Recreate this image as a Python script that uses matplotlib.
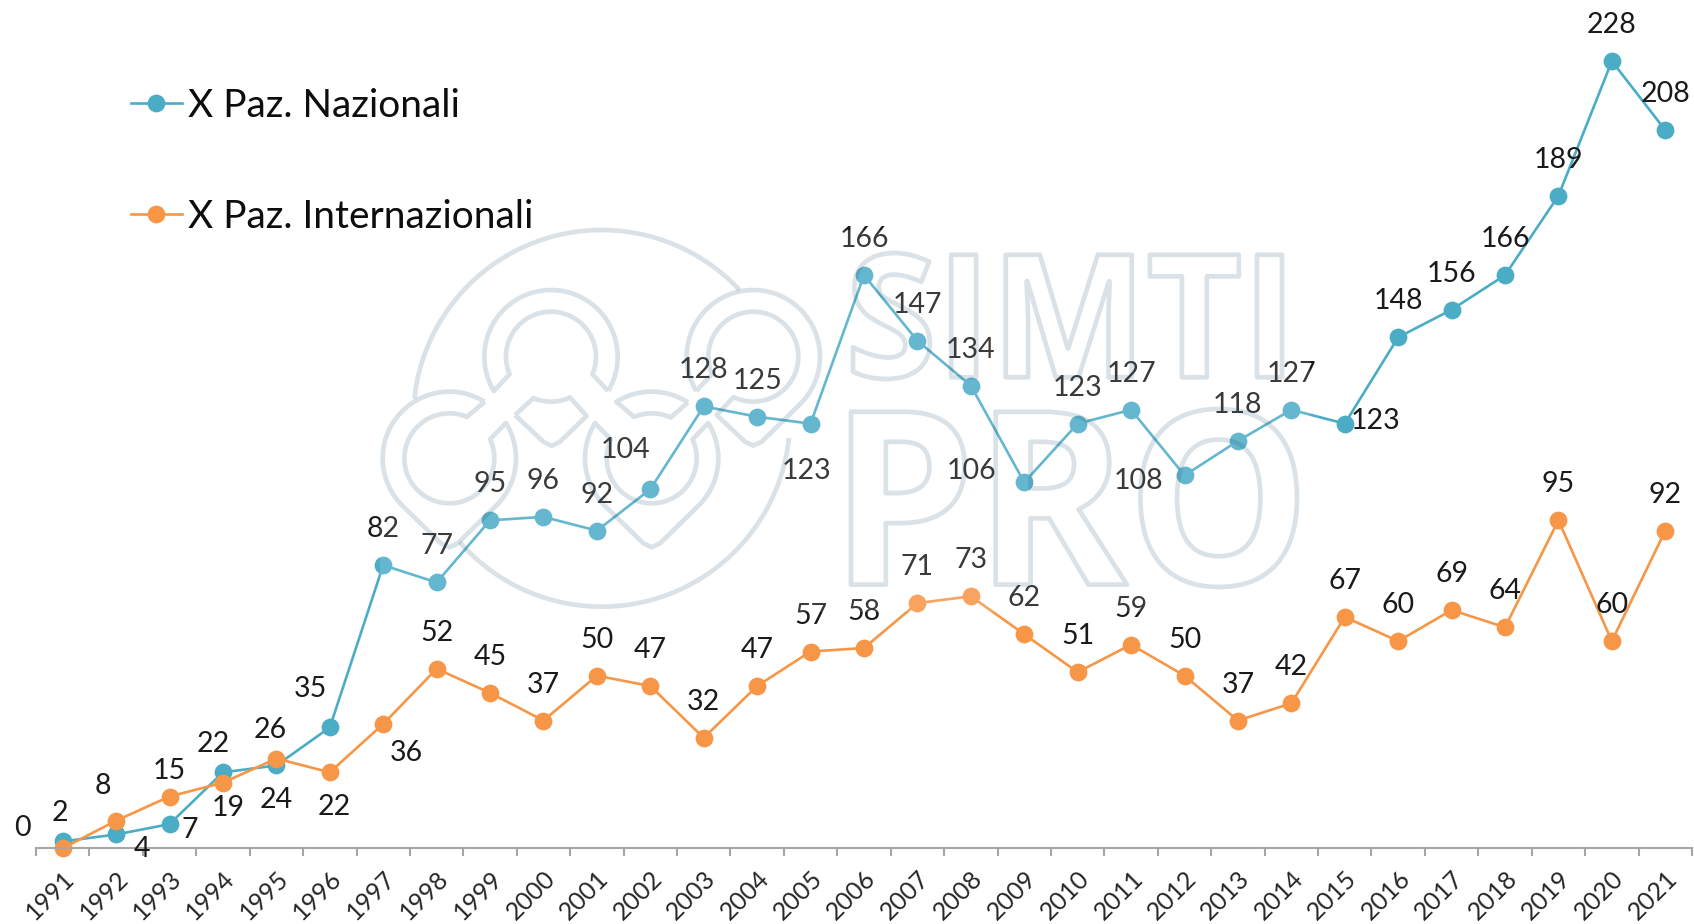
import numpy as np
import matplotlib
matplotlib.use('Agg')
import matplotlib.pyplot as plt
from matplotlib.font_manager import FontProperties
from matplotlib.patches import PathPatch, Rectangle
from matplotlib.path import Path
from matplotlib.textpath import TextPath
from matplotlib.transforms import Affine2D

plt.rcParams['font.family'] = ['Lato', 'DejaVu Sans']

years = list(range(1991, 2022))
nazionali = [2, 4, 7, 22, 24, 35, 82, 77, 95, 96, 92, 104, 128, 125, 123, 166,
             147, 134, 106, 123, 127, 108, 118, 127, 123, 148, 156, 166, 189, 228, 208]
internazionali = [0, 8, 15, 19, 26, 22, 36, 52, 45, 37, 50, 47, 32, 47, 57, 58,
                  71, 73, 62, 51, 59, 50, 37, 42, 67, 60, 69, 64, 95, 60, 92]

BLUE = '#4BACC6'
ORANGE = '#F79646'
W, H = 1694, 924

# label offsets in pixels, only the ones that are not straight above the point
off_naz = {0: (-3, 28), 1: (26, -15), 2: (20, -6), 3: (-10, 28), 4: (0, -35), 5: (-19, 38),
           11: (-25, 39), 14: (-4, -47), 18: (-53, 11), 21: (-46, -6), 24: (31, 3)}
off_int = {0: (-40, 20), 1: (-13, 35), 2: (0, 26), 3: (5, -25), 4: (-6, 29), 5: (4, -35),
           6: (23, -29)}

fig = plt.figure(figsize=(W / 100, H / 100), dpi=100)
ax = fig.add_axes([36 / W, (H - 848.3) / H, 1656 / W, 848.3 / H])

x = np.arange(len(years))
ax.plot(x, nazionali, color=BLUE, lw=1.9, marker='o', ms=12.8, mew=0,
        label='X Paz. Nazionali', clip_on=False)
ax.plot(x, internazionali, color=ORANGE, lw=1.9, marker='o', ms=12.8, mew=0,
        label='X Paz. Internazionali', clip_on=False)

for vals, offs in ((nazionali, off_naz), (internazionali, off_int)):
    for i, v in enumerate(vals):
        ax.annotate(str(v), (x[i], v), xytext=offs.get(i, (0, 36)), textcoords='offset pixels',
                    ha='center', va='center', fontsize=20.5, color='#1a1a1a')

ax.set_xlim(-0.5, 30.5)
ax.set_ylim(0, 245.7)
ax.yaxis.set_visible(False)
for s in ('top', 'left', 'right'):
    ax.spines[s].set_visible(False)
ax.spines['bottom'].set_color('#a6a6a6')
ax.spines['bottom'].set_linewidth(1.5)
ax.set_xticks(np.r_[-0.5, x + 0.5])
ax.set_xticklabels([])
ax.tick_params(axis='x', which='major', length=5.5, width=1.5, color='#a6a6a6')
ax.set_xticks(x, minor=True)
ax.set_xticklabels(years, minor=True, rotation=45, ha='right', va='top', fontsize=18,
                   color='#262626', rotation_mode='anchor')
ax.tick_params(axis='x', which='minor', length=0, pad=13)

ax.legend(loc='upper left', bbox_to_anchor=(95 / 1656, (848.3 - 88) / 848.3), frameon=False,
          fontsize=28, handlelength=1.3, handletextpad=0.17, labelspacing=1.93,
          borderpad=0, borderaxespad=0, labelcolor='#0d0d0d')

# watermark, drawn in image pixels over the chart
to_px = Affine2D().scale(1, -1).translate(0, H)
wash = Rectangle((380, 230), 930, 382, fc='white', ec='none', alpha=0.14,
                 transform=to_px, zorder=4)
fig.add_artist(wash)
INK = dict(fc='none', ec=(0.12, 0.31, 0.43), alpha=0.16, lw=3.4, zorder=5, joinstyle='round')


def word(txt, x0, y0, x1, y1):
    tp = TextPath((0, 0), txt, size=100, prop=FontProperties(family='Open Sans', weight='bold'))
    bb = tp.get_extents()
    tr = (Affine2D().translate(-bb.x0, -bb.y0).scale((x1 - x0) / bb.width, (y1 - y0) / bb.height)
          .scale(1, -1).translate(x0, y1))
    fig.add_artist(PathPatch(tp, transform=tr + to_px, **INK))


word('SIMTI', 853, 253, 1282, 379)
word('PRO', 851, 409, 1297, 587)


def arc(c, r, a0, a1):
    t = np.radians(np.linspace(a0, a1, 60))
    return list(zip(c[0] + r * np.cos(t), c[1] - r * np.sin(t)))


def shape(pts, closed=True):
    pts = list(pts)
    if closed:
        pts = pts + [pts[0]]
    fig.add_artist(PathPatch(Path(pts), transform=logo_tr, **INK))


logo_tr = Affine2D().scale(1 / 3).translate(360, 210) + to_px
R, r = 200, 135
c_top, c_right, c_left, c_low = (573, 440), (1180, 440), (268, 745), (875, 745)


def tip(c):
    return [(c[0] - 25, c[1] + 255), (c[0], c[1] + 267), (c[0] + 25, c[1] + 255)]


shape(arc((725, 625), 565, 43, 174), closed=False)
shape(arc((725, 625), 565, 221, 354), closed=False)
shape(arc(c_top, R, -31, 211) + arc(c_top, r, 203, -23))
shape([(465, 615)] + arc(c_top, r, 247, 295) + [(680, 618), (600, 695), (575, 708), (550, 695)])
shape(arc(c_low, R, 57, 122) + arc(c_low, r, 113, 65))
shape([(705, 640)] + arc(c_low, R, 148, 225) + tip(c_low) + arc(c_low, R, -45, 32)
      + arc(c_low, r, 25, -205))
shape(arc(c_left, R, 58, 225) + tip(c_left) + arc(c_left, R, -45, 32) + arc(c_left, r, 25, -293))
shape(arc(c_right, R, 211, -45) + tip(c_right)[::-1] + [(1070, 615)] + arc(c_right, r, 244, 563))

fig.savefig('out.png', dpi=100)
